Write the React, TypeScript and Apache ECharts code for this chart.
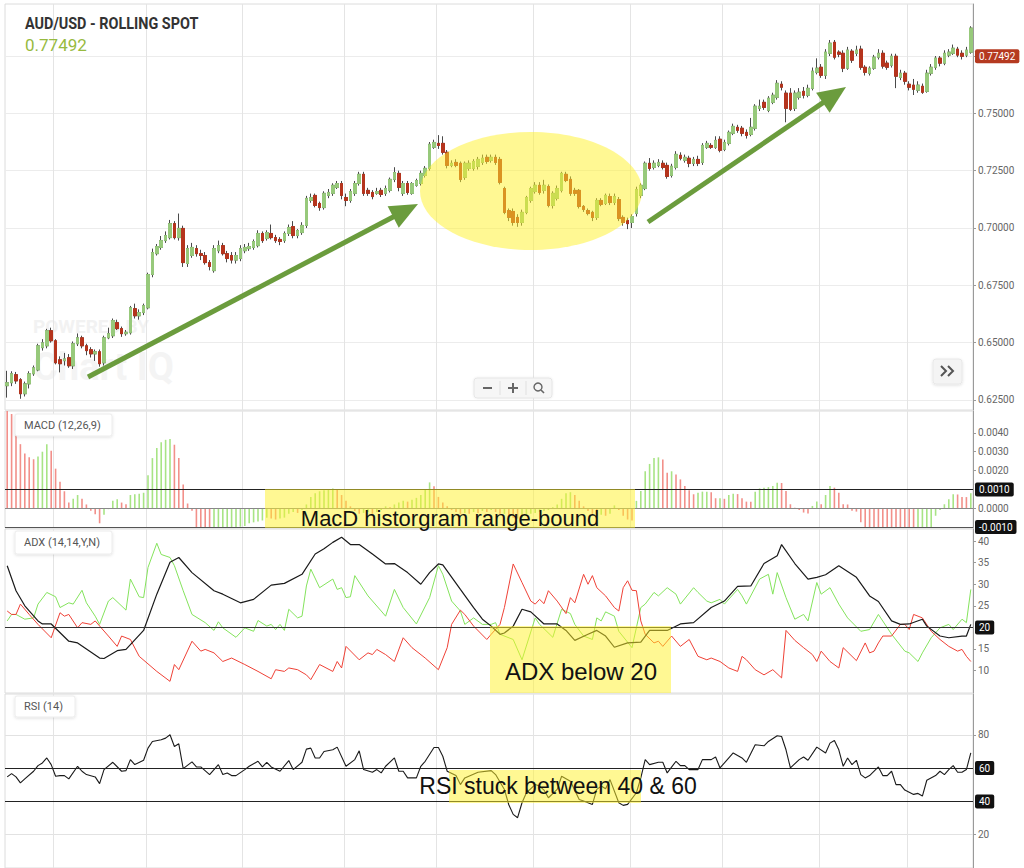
import React, { useEffect, useRef } from "react";
import * as echarts from "echarts";

// Prices are quoted in pips (1 pip = 0.0001)
const PIP = 0.0001;

const opens = [
  6312, 6325, 6360, 6338, 6277, 6320, 6364, 6381, 6478, 6486,
  6552, 6508, 6425, 6421, 6434, 6399, 6495, 6521, 6486, 6469,
  6451, 6460, 6412, 6521, 6530, 6587, 6561, 6539, 6543, 6648,
  6617, 6631, 6652, 6797, 6888, 6915, 6945, 6958, 7019, 6958,
  6998, 6845, 6880, 6910, 6888, 6880, 6849, 6814, 6901, 6923,
  6888, 6880, 6860, 6867, 6901, 6910, 6915, 6923, 6976, 6954,
  6976, 6958, 6950, 6945, 6976, 7006, 6967, 6980, 7011, 7120,
  7142, 7107, 7089, 7142, 7151, 7177, 7194, 7133, 7120, 7151,
  7194, 7234, 7164, 7155, 7151, 7164, 7151, 7164, 7212, 7238,
  7151, 7194, 7151, 7186, 7194, 7229, 7260, 7352, 7369, 7369,
  7330, 7273, 7286, 7282, 7221, 7260, 7260, 7269, 7286, 7308,
  7295, 7308, 7299, 7172, 7076, 7072, 7046, 7024, 7068, 7120,
  7159, 7186, 7164, 7181, 7098, 7129, 7164, 7234, 7212, 7164,
  7164, 7094, 7076, 7068, 7046, 7120, 7107, 7137, 7111, 7124,
  7046, 7033, 7024, 7063, 7142, 7172, 7282, 7264, 7273, 7282,
  7273, 7229, 7264, 7317, 7295, 7304, 7282, 7299, 7286, 7352,
  7360, 7352, 7387, 7343, 7369, 7413, 7439, 7435, 7417, 7408,
  7435, 7522, 7548, 7513, 7548, 7570, 7627, 7588, 7588, 7522,
  7570, 7596, 7579, 7609, 7679, 7701, 7666, 7762, 7810, 7767,
  7762, 7697, 7771, 7762, 7780, 7701, 7675, 7697, 7745, 7762,
  7719, 7710, 7749, 7657, 7675, 7627, 7623, 7601, 7618, 7596,
  7675, 7701, 7741, 7719, 7754, 7762, 7780, 7762, 7754, 7767,
];

const closes = [
  6325, 6364, 6333, 6277, 6320, 6364, 6390, 6486, 6499, 6552,
  6508, 6412, 6408, 6429, 6399, 6495, 6521, 6486, 6465, 6451,
  6460, 6408, 6521, 6539, 6596, 6561, 6539, 6545, 6652, 6617,
  6631, 6661, 6797, 6893, 6919, 6945, 6967, 7019, 6958, 6998,
  6849, 6910, 6915, 6888, 6880, 6849, 6832, 6910, 6923, 6888,
  6867, 6860, 6880, 6910, 6915, 6919, 6941, 6976, 6945, 6980,
  6958, 6945, 6941, 6976, 7002, 6967, 6989, 7011, 7129, 7133,
  7098, 7089, 7151, 7155, 7186, 7194, 7142, 7120, 7159, 7194,
  7234, 7151, 7151, 7137, 7159, 7146, 7172, 7212, 7242, 7177,
  7194, 7155, 7194, 7207, 7238, 7260, 7365, 7373, 7360, 7330,
  7273, 7282, 7273, 7212, 7282, 7282, 7290, 7299, 7304, 7290,
  7308, 7286, 7199, 7068, 7046, 7024, 7024, 7068, 7133, 7172,
  7186, 7155, 7186, 7098, 7151, 7172, 7238, 7207, 7151, 7151,
  7094, 7081, 7063, 7046, 7120, 7103, 7142, 7111, 7137, 7041,
  7024, 7019, 7050, 7168, 7186, 7282, 7260, 7282, 7286, 7264,
  7225, 7269, 7321, 7304, 7308, 7282, 7299, 7282, 7360, 7369,
  7352, 7382, 7339, 7373, 7417, 7443, 7426, 7413, 7404, 7439,
  7531, 7531, 7526, 7566, 7579, 7631, 7614, 7522, 7518, 7588,
  7592, 7579, 7609, 7684, 7697, 7666, 7767, 7806, 7745, 7758,
  7697, 7776, 7732, 7776, 7701, 7679, 7697, 7745, 7762, 7706,
  7701, 7749, 7662, 7675, 7640, 7614, 7605, 7623, 7592, 7675,
  7701, 7741, 7719, 7762, 7767, 7784, 7754, 7749, 7776, 7872,
];

const lows = [
  6260, 6310, 6320, 6255, 6265, 6300, 6355, 6375, 6465, 6475,
  6500, 6405, 6370, 6400, 6390, 6385, 6485, 6475, 6445, 6435,
  6420, 6395, 6400, 6515, 6520, 6555, 6525, 6530, 6535, 6605,
  6600, 6620, 6645, 6785, 6880, 6905, 6935, 6950, 6950, 6945,
  6830, 6830, 6870, 6875, 6860, 6840, 6815, 6805, 6890, 6880,
  6850, 6845, 6845, 6855, 6890, 6900, 6905, 6915, 6935, 6945,
  6950, 6935, 6925, 6935, 6965, 6955, 6955, 6970, 7000, 7110,
  7090, 7075, 7080, 7130, 7140, 7170, 7125, 7095, 7110, 7140,
  7185, 7140, 7140, 7125, 7145, 7135, 7140, 7155, 7200, 7160,
  7140, 7145, 7145, 7180, 7185, 7220, 7250, 7345, 7345, 7320,
  7260, 7265, 7265, 7200, 7210, 7250, 7250, 7255, 7275, 7280,
  7285, 7275, 7190, 7060, 7030, 7010, 7005, 7010, 7060, 7110,
  7150, 7145, 7150, 7090, 7085, 7120, 7155, 7200, 7140, 7140,
  7085, 7070, 7055, 7030, 7035, 7095, 7100, 7100, 7100, 7030,
  7010, 6995, 7000, 7050, 7130, 7165, 7250, 7255, 7265, 7255,
  7215, 7220, 7255, 7295, 7285, 7265, 7270, 7270, 7275, 7345,
  7345, 7345, 7330, 7335, 7360, 7405, 7415, 7400, 7390, 7400,
  7425, 7510, 7515, 7505, 7540, 7560, 7600, 7461, 7510, 7510,
  7560, 7565, 7570, 7600, 7670, 7655, 7650, 7750, 7735, 7745,
  7680, 7690, 7720, 7750, 7690, 7665, 7665, 7690, 7735, 7695,
  7690, 7700, 7610, 7645, 7625, 7600, 7580, 7590, 7585, 7590,
  7665, 7690, 7705, 7710, 7745, 7755, 7745, 7735, 7745, 7760,
];

const highs = [
  6377, 6375, 6372, 6345, 6330, 6375, 6400, 6495, 6515, 6560,
  6565, 6515, 6440, 6455, 6450, 6505, 6540, 6530, 6495, 6480,
  6470, 6470, 6530, 6565, 6605, 6600, 6570, 6555, 6660, 6670,
  6645, 6670, 6805, 6910, 6930, 6965, 6985, 7035, 7030, 7063,
  7010, 6925, 6935, 6925, 6905, 6895, 6860, 6925, 6945, 6935,
  6900, 6895, 6895, 6925, 6930, 6935, 6950, 6990, 6985, 6990,
  7015, 6970, 6960, 6985, 7015, 7030, 6995, 7025, 7140, 7150,
  7150, 7115, 7160, 7170, 7195, 7205, 7205, 7150, 7170, 7205,
  7245, 7245, 7175, 7165, 7175, 7175, 7185, 7220, 7265, 7250,
  7205, 7205, 7200, 7215, 7250, 7270, 7375, 7385, 7405, 7400,
  7340, 7295, 7300, 7290, 7290, 7295, 7300, 7310, 7320, 7320,
  7320, 7320, 7310, 7180, 7085, 7085, 7060, 7080, 7140, 7180,
  7200, 7200, 7210, 7190, 7160, 7185, 7245, 7245, 7225, 7175,
  7170, 7100, 7085, 7075, 7130, 7130, 7150, 7150, 7150, 7135,
  7055, 7045, 7060, 7180, 7195, 7290, 7305, 7295, 7300, 7295,
  7285, 7280, 7335, 7330, 7320, 7315, 7310, 7315, 7370, 7380,
  7370, 7400, 7400, 7385, 7425, 7455, 7450, 7445, 7430, 7480,
  7540, 7560, 7560, 7575, 7590, 7645, 7640, 7600, 7610, 7600,
  7610, 7615, 7625, 7700, 7740, 7715, 7780, 7820, 7820, 7775,
  7775, 7790, 7780, 7795, 7795, 7710, 7705, 7755, 7780, 7775,
  7730, 7760, 7760, 7690, 7685, 7640, 7650, 7640, 7630, 7690,
  7715, 7750, 7750, 7775, 7780, 7800, 7790, 7775, 7790, 7880,
];

// MACD histogram, in units of 0.0001
const macdHist = [
  56, 50, 42, 34, 29, 27, 26, 27.5, 30, 34,
  30.5, 21, 14, 9, 3, 5, 7, 5, 2, -1.4,
  -3.2, -8, -3.5, -0.5, 3.9, 4.7, 3, 2.1, 7, 7.4,
  7.7, 8.2, 17.5, 26.6, 32, 35, 36.3, 36.7, 33.7, 26.6,
  12.6, 2.5, -1.4, -10, -11, -12, -12.5, -12, -11.5, -11,
  -10.5, -10.3, -10, -9.8, -9.5, -8, -7.5, -7, -6.5, -5,
  -5.5, -6, -5.5, -5, -3, -2, -2.5, -1, 2, 6,
  8, 9, 9.5, 10, 10.5, 10, 7, 4, 1, -1.5,
  -3, -2.5, -2, -3, -2, -1, 1, 0.5, 2, 3,
  4, 3.5, 4.5, 5.5, 7, 10, 13.7, 11.7, 6, 3,
  1, -1, -2, -3, -2.5, -3, -2, -2.5, -1.5, -2,
  -1, -2, -3, -3, -4, -5, -5.5, -5, -4, -3,
  -2.5, -2, -1.5, -1, 0.5, 2, 5, 8, 8.5, 7,
  4, 1, -1.5, -3, -4, -3.5, -4, -3, 1.5, -1,
  -4, -6, -6.5, 3.9, 9.1, 19.6, 23.5, 26.6, 27, 25.8,
  18.8, 19.6, 17.9, 15.3, 11.8, 9.5, 7.4, 8.2, 8.8, 8.8,
  8.5, 5.3, 5.3, 5, 7, 7.7, 7.5, 5.3, 3.5, 3.4,
  8.8, 10.5, 10.9, 11.2, 11.8, 13.5, 13.4, 9.1, 2.1, 0.3,
  -1, -2.3, -2.8, 1.2, 3.5, 2.1, 7, 11.8, 10.9, 8.2,
  2.1, 2, -1.4, -1.8, -7.5, -10.5, -11, -12, -12.5, -13,
  -13.5, -14, -14.5, -15, -15.5, -16, -16.5, -15, -13, -11.5,
  -10, -4, -1, 2.1, 4.7, 7.4, 7.3, 6, 5.9, 8,
];

// ADX(14,14): [day index, value] vertices
const adxLine = [
  [0, 34.3], [2, 28.5], [4, 25], [7, 21.5], [8, 20.8], [10, 20.8], [14, 16.8], [16, 16.4], [21, 12.9], [22, 12.8],
  [25, 14.6], [27, 14.9], [31, 19.3], [34, 27.7], [37, 35.1], [39, 36.2], [42, 32.7], [47, 28.5], [49, 27.7], [53, 25.7],
  [56, 26.5], [60, 29.8], [63, 30.2], [67, 32.3], [70, 37], [72, 38.2], [74, 39.7], [76, 40.9], [78, 39.2], [80, 39.2],
  [83, 37], [86, 34.7], [88, 34.8], [91, 32.7], [94, 30], [96, 32.7], [98, 34.7], [99, 34.5], [103, 28.8], [106, 24.6],
  [108, 21.9], [110, 20.3], [112, 18.4], [113, 18.7], [115, 20.3], [117, 24.2], [119, 23.6], [122, 20.8], [125, 20.8], [127, 19.3],
  [129, 17], [132, 18.4], [134, 19.3], [136, 18], [138, 15.4], [141, 16.4], [144, 16.6], [146, 19.3], [150, 19.3], [153, 20.8],
  [156, 21.1], [160, 24.6], [163, 26.1], [166, 29.5], [169, 29.6], [172, 34.8], [175, 36.6], [176, 39.2], [179, 34.8], [182, 31.2],
  [184, 31.6], [186, 32.2], [189, 34.3], [193, 31.6], [196, 27.3], [198, 26], [201, 21.5], [203, 20.7], [205, 20.8], [208, 21.9],
  [209, 20.3], [212, 18], [214, 17.6], [217, 18], [218, 18], [219, 20.7],
];

const plusDI = [
  [0, 21.5], [1, 23], [2, 23], [4, 21.9], [6, 22.2], [7, 25.4], [9, 28.1], [11, 27.1], [12, 24.6], [14, 25.7],
  [15, 25.4], [17, 28.6], [18, 25.7], [20, 22.6], [21, 20.7], [23, 26.1], [24, 26.9], [27, 24], [28, 31.2], [30, 27.1],
  [31, 26.9], [32, 33.9], [34, 39.5], [35, 36.9], [37, 36.2], [38, 34.3], [40, 28.5], [42, 23], [45, 21.1], [47, 19.3],
  [48, 21.3], [49, 19.9], [52, 17.7], [54, 19.9], [56, 19.1], [57, 21.6], [59, 20.3], [60, 20.7], [61, 19.5], [62, 20.7],
  [63, 19.3], [64, 24.2], [66, 22.2], [67, 22.6], [68, 29.6], [69, 33.5], [71, 29.2], [74, 31.2], [75, 28.8], [76, 29.2],
  [77, 26.9], [78, 27.1], [79, 32], [82, 27.3], [85, 23.8], [86, 22.6], [88, 28.8], [90, 24.6], [93, 20.8], [96, 26.9],
  [98, 34.3], [99, 32.3], [101, 26.1], [103, 23.8], [104, 20.7], [106, 22.2], [108, 20.7], [110, 20.7], [111, 21.1], [112, 18.4],
  [115, 17.2], [117, 12.5], [120, 22.2], [121, 20.7], [124, 17.7], [126, 24.2], [128, 23.2], [129, 20.7], [131, 18], [133, 17.2],
  [134, 22.2], [135, 21.5], [136, 23.6], [138, 22.6], [139, 19.1], [142, 15.3], [144, 24.6], [145, 25.4], [147, 28.1], [148, 27.3],
  [150, 29.2], [152, 27.7], [153, 25.4], [156, 29.2], [157, 28.1], [159, 26.1], [160, 25.7], [162, 26.5], [163, 25.4], [166, 28.8],
  [167, 27.3], [168, 25.4], [171, 31.2], [173, 32.3], [174, 27.7], [175, 32.7], [177, 26.9], [179, 21.9], [181, 23], [182, 21.5],
  [184, 30.4], [185, 27.7], [187, 29.2], [189, 25.4], [191, 22.2], [194, 19.1], [196, 19.5], [198, 23], [201, 18.4], [204, 14.5],
  [205, 14.1], [207, 12.1], [208, 14.1], [210, 17.6], [212, 19.9], [214, 20.7], [215, 19.5], [217, 21.9], [218, 21.1], [219, 28.8],
];

const minusDI = [
  [0, 23.8], [1, 23], [2, 23], [3, 25.4], [5, 23], [7, 20.7], [10, 17.6], [12, 23.4], [13, 22.6], [14, 23],
  [16, 19.9], [17, 21.1], [19, 20.7], [20, 21.5], [23, 18], [25, 15.6], [26, 18], [28, 17.2], [30, 13.3], [34, 9.8],
  [37, 7.5], [38, 11.4], [39, 10.2], [42, 16.8], [44, 14.5], [45, 14.9], [47, 14.1], [49, 12.1], [51, 12.9], [54, 11.4],
  [57, 9.8], [60, 8.1], [61, 10.2], [63, 9.8], [64, 10.6], [66, 10.2], [68, 9], [69, 7.9], [71, 11.4], [74, 9.8],
  [75, 12.1], [76, 10.6], [77, 15.6], [80, 12.5], [82, 14.1], [83, 13.7], [84, 14.9], [86, 13.7], [88, 12.1], [90, 17.6],
  [92, 15.3], [95, 12.9], [98, 10.2], [100, 15.3], [101, 20.7], [103, 24], [104, 23], [106, 20.3], [109, 17.2], [110, 18.4],
  [112, 20.7], [113, 24.6], [115, 34.7], [117, 30.4], [119, 26.1], [120, 25.4], [121, 26.5], [122, 25.5], [123, 28.5], [125, 26.1],
  [127, 23.2], [128, 26.9], [129, 25.7], [131, 32.3], [132, 30], [133, 32], [134, 29.2], [136, 27.3], [138, 24.6], [139, 23.8],
  [140, 29.2], [141, 30.8], [142, 28.6], [143, 28.5], [144, 21.5], [145, 18.4], [147, 16.4], [148, 16.8], [149, 15.6], [151, 18],
  [153, 15.6], [155, 17.2], [157, 13.3], [159, 12.5], [160, 12.9], [162, 12.1], [164, 10.6], [166, 9.8], [167, 13.3], [168, 12.5],
  [170, 10.2], [172, 9], [174, 10.2], [176, 8.3], [177, 19.3], [179, 17], [181, 15.3], [183, 13.7], [184, 12.1], [185, 14.5],
  [187, 12.1], [189, 10.6], [190, 15.3], [192, 13.3], [193, 12.3], [195, 16.4], [196, 14.1], [197, 14.5], [198, 16.4], [199, 18],
  [201, 18], [203, 20.7], [204, 20.7], [205, 19.5], [206, 23], [208, 22.2], [210, 19.1], [212, 17.2], [214, 15.6], [216, 14.5],
  [217, 14.9], [218, 13.3], [219, 12.1],
];

// RSI(14): [day index, value]
const rsiLine = [
  [0, 54.7], [1, 56.7], [2, 54.7], [3, 51.1], [4, 53.5], [6, 58.1], [7, 61.5], [8, 63.1], [9, 66.1], [10, 62.1],
  [11, 55.1], [12, 55.5], [13, 55.5], [14, 53.5], [16, 61.1], [17, 58.1], [18, 56.1], [20, 54.7], [21, 50.7], [22, 59.1],
  [24, 63.5], [26, 58.1], [27, 58.5], [28, 65.1], [29, 62.1], [31, 64.7], [32, 72], [33, 76], [35, 77], [36, 78],
  [37, 80], [38, 73], [39, 74.6], [40, 59.7], [42, 63.7], [43, 60.7], [44, 60.7], [46, 56.1], [48, 62.1], [49, 56.1],
  [50, 57.1], [51, 55.5], [52, 55.5], [54, 59.1], [55, 61.1], [57, 64.1], [58, 60.7], [59, 63.5], [60, 60.7], [62, 58.1],
  [64, 64.5], [65, 59.1], [67, 63.5], [68, 71.4], [69, 72], [70, 66.1], [71, 66.1], [72, 70], [74, 71], [75, 72.6],
  [77, 61.1], [79, 65.1], [80, 70.4], [81, 59.1], [83, 57.5], [84, 59.1], [85, 57.1], [86, 61.1], [88, 66.1], [89, 58.1],
  [90, 58.1], [91, 54.1], [93, 54.1], [94, 61.1], [95, 64.1], [97, 72.4], [98, 72.4], [99, 67.1], [100, 58.1], [102, 55.5],
  [103, 50.1], [104, 54.1], [107, 57.5], [110, 58.5], [111, 56.1], [113, 47.2], [114, 38], [115, 32.2], [116, 30.2], [117, 39.2],
  [118, 45.2], [120, 50.1], [121, 49.2], [122, 46.8], [123, 42.2], [125, 47.2], [126, 55.1], [128, 52.1], [130, 41.2], [131, 40.2],
  [133, 38.2], [134, 47.2], [135, 49.2], [136, 47.6], [137, 53.1], [139, 39.2], [140, 37.6], [141, 38.2], [143, 45.2], [144, 54.1],
  [145, 65.1], [146, 62.1], [148, 63.5], [149, 63.5], [150, 57.1], [152, 64.1], [153, 61.5], [154, 61.5], [155, 59.1], [157, 59.1],
  [158, 65.1], [160, 65.1], [161, 66.7], [162, 60.1], [165, 69.1], [167, 66.1], [168, 63.5], [170, 74], [172, 73.4], [173, 76],
  [175, 79.4], [176, 79], [177, 71], [178, 60.1], [180, 65.1], [181, 66.7], [182, 64.7], [184, 72.6], [186, 69.1], [187, 75],
  [188, 76.6], [189, 71], [190, 61.1], [191, 66.1], [192, 62.1], [193, 64.7], [194, 56.1], [195, 54.1], [196, 55.5], [198, 60.7],
  [199, 55.5], [200, 55.5], [201, 58.1], [202, 50.1], [203, 50.1], [204, 46.8], [206, 44.2], [207, 44.8], [208, 43.2], [209, 52.7],
  [211, 55.5], [212, 58.1], [213, 56.1], [214, 59.1], [215, 61.5], [216, 57.5], [217, 57.5], [218, 59.1], [219, 69.1],
];

const monthStarts = [11, 32, 54, 77, 98, 120, 142, 163, 185, 205];
const priceTicks = [0.625, 0.65, 0.675, 0.7, 0.725, 0.75, 0.775];
const macdTicks = [0, 0.002, 0.003, 0.004];
const adxTicks = [10, 15, 25, 30, 35, 40];
const rsiTicks = [20, 80];
const lastPrice = 0.77492;
const symbolTitle = "AUD/USD - ROLLING SPOT";
const lastPriceText = "0.77492";

const UP = "#97c97b";
const DOWN = "#b5341d";
const WICK = "#4a4a4a";
const MACD_UP = "#a8e485";
const MACD_DOWN = "#f2908a";
const ARROW = "#6b9c3d";
const HILITE = "rgba(255,242,40,0.5)";
const GRID_LINE = "#e4e4e4";

const days = opens.map((_, i) => String(i + 1));

function tag(text: string, bg: string) {
  return {
    show: true,
    position: "end",
    formatter: text,
    color: "#fff",
    backgroundColor: bg,
    padding: [2, 4, 2, 4],
    borderRadius: 2,
    fontSize: 10,
    fontFamily: "Roboto",
    distance: 2,
  };
}

function buildOption(): any {
  const grids = [
    { left: 5, right: 51, top: 4, height: 406 },
    { left: 5, right: 51, top: 411, height: 117 },
    { left: 5, right: 51, top: 529, height: 164 },
    { left: 5, right: 51, top: 694, height: 175 },
  ].map((g) => ({ ...g, show: true, borderColor: "#dcdcdc", borderWidth: 1 }));

  const xAxes = grids.map((_, gi) => ({
    type: "category",
    gridIndex: gi,
    data: days,
    boundaryGap: true,
    axisLine: { show: false },
    axisTick: { show: false },
    axisLabel: { show: false },
    splitLine: {
      show: true,
      interval: (idx: number) => monthStarts.indexOf(idx) >= 0,
      lineStyle: { color: GRID_LINE, width: 1 },
    },
  }));

  const axisCommon = {
    type: "value",
    position: "right",
    axisLine: { show: true, lineStyle: { color: "#9a9a9a" } },
    axisLabel: { color: "#666", fontSize: 10, fontFamily: "Roboto", margin: 5 },
  };

  const yAxes = [
    {
      ...axisCommon,
      gridIndex: 0,
      min: 0.6206,
      max: 0.7977,
      axisTick: { show: true, length: 3, customValues: priceTicks, lineStyle: { color: "#9a9a9a" } },
      axisLabel: { ...axisCommon.axisLabel, customValues: priceTicks, formatter: (v: number) => v.toFixed(5) },
      splitLine: { show: true, lineStyle: { color: "#ececec" } },
    },
    {
      ...axisCommon,
      gridIndex: 1,
      min: -0.00105,
      max: 0.00516,
      axisTick: { show: true, length: 3, customValues: macdTicks, lineStyle: { color: "#9a9a9a" } },
      axisLabel: { ...axisCommon.axisLabel, customValues: macdTicks, formatter: (v: number) => v.toFixed(4) },
      splitLine: { show: false },
    },
    {
      ...axisCommon,
      gridIndex: 2,
      min: 4.8,
      max: 42.8,
      axisTick: { show: true, length: 3, customValues: adxTicks, lineStyle: { color: "#9a9a9a" } },
      axisLabel: { ...axisCommon.axisLabel, customValues: adxTicks },
      splitLine: { show: false },
    },
    {
      ...axisCommon,
      gridIndex: 3,
      min: 0,
      max: 104.5,
      axisTick: { show: true, length: 3, customValues: rsiTicks, lineStyle: { color: "#9a9a9a" } },
      axisLabel: { ...axisCommon.axisLabel, customValues: rsiTicks },
      splitLine: { show: true, lineStyle: { color: "#e2e2e2" } },
    },
  ];

  const fullCandles = opens.map((o, i) => [o * PIP, closes[i] * PIP, lows[i] * PIP, highs[i] * PIP]);
  const bodyCandles = opens.map((o, i) => [
    o * PIP,
    closes[i] * PIP,
    Math.min(o, closes[i]) * PIP,
    Math.max(o, closes[i]) * PIP,
  ]);

  const macdData = macdHist.map((v, i) => ({
    value: v * PIP,
    itemStyle: { color: i === 0 || v < macdHist[i - 1] ? MACD_DOWN : MACD_UP },
  }));

  const hidden = { color: "rgba(0,0,0,0)", width: 0 };

  const series: any[] = [
    {
      name: "wicks",
      type: "candlestick",
      xAxisIndex: 0,
      yAxisIndex: 0,
      barWidth: 3,
      data: fullCandles,
      itemStyle: { color: WICK, color0: WICK, borderColor: WICK, borderColor0: WICK, borderWidth: 1 },
      markLine: {
        silent: true,
        precision: 6,
        symbol: ["none", "none"],
        data: [{ yAxis: lastPrice, lineStyle: hidden, label: tag(lastPriceText, "#b53a20") }],
      },
    },
    {
      name: "bodies",
      type: "candlestick",
      xAxisIndex: 0,
      yAxisIndex: 0,
      barWidth: 3,
      data: bodyCandles,
      itemStyle: { color: UP, color0: DOWN, borderColor: UP, borderColor0: DOWN, borderWidth: 1 },
    },
    {
      name: "MACD",
      type: "bar",
      xAxisIndex: 1,
      yAxisIndex: 1,
      barWidth: 1.6,
      data: macdData,
      markLine: {
        silent: true,
        precision: 6,
        symbol: ["none", "none"],
        data: [
          { yAxis: 0.001, lineStyle: { color: "#222", width: 1, type: "solid" }, label: tag("0.0010", "#111") },
          { yAxis: 0, lineStyle: { color: "#888", width: 1, type: "solid" }, label: { show: false } },
          { yAxis: -0.001, lineStyle: { color: "#555", width: 1, type: "solid" }, label: tag("-0.0010", "#111") },
        ],
      },
    },
    {
      name: "+DI",
      type: "line",
      xAxisIndex: 2,
      yAxisIndex: 2,
      data: plusDI,
      showSymbol: false,
      lineStyle: { color: "#84e35c", width: 1 },
    },
    {
      name: "-DI",
      type: "line",
      xAxisIndex: 2,
      yAxisIndex: 2,
      data: minusDI,
      showSymbol: false,
      lineStyle: { color: "#ef4136", width: 1 },
    },
    {
      name: "ADX",
      type: "line",
      xAxisIndex: 2,
      yAxisIndex: 2,
      data: adxLine,
      showSymbol: false,
      lineStyle: { color: "#1a1a1a", width: 1.2 },
      markLine: {
        silent: true,
        precision: 4,
        symbol: ["none", "none"],
        data: [{ yAxis: 20, lineStyle: { color: "#333", width: 1.2, type: "solid" }, label: tag("20", "#111") }],
      },
    },
    {
      name: "RSI",
      type: "line",
      xAxisIndex: 3,
      yAxisIndex: 3,
      data: rsiLine,
      showSymbol: false,
      lineStyle: { color: "#1a1a1a", width: 1.1 },
      markLine: {
        silent: true,
        precision: 4,
        symbol: ["none", "none"],
        data: [
          { yAxis: 60, lineStyle: { color: "#222", width: 1.2, type: "solid" }, label: tag("60", "#111") },
          { yAxis: 40, lineStyle: { color: "#222", width: 1.2, type: "solid" }, label: tag("40", "#111") },
        ],
      },
    },
  ];

  const panelLabel = (x: number, y: number, w: number, h: number, text: string) => [
    {
      type: "rect",
      z: 50,
      shape: { x, y, width: w, height: h, r: 2 },
      style: { fill: "#fff", stroke: "#ececec", shadowBlur: 3, shadowColor: "rgba(0,0,0,0.12)", shadowOffsetY: 1 },
    },
    {
      type: "text",
      z: 51,
      x: x + 9,
      y: y + h / 2,
      style: { text, fill: "#555", fontSize: 11, fontFamily: "Roboto", align: "left", verticalAlign: "middle" },
    },
  ];

  const arrow = (x1: number, y1: number, tx: number, ty: number) => {
    const dx = tx - x1;
    const dy = ty - y1;
    const len = Math.sqrt(dx * dx + dy * dy);
    const ux = dx / len;
    const uy = dy / len;
    const headL = 28;
    const headW = 12;
    const bx = tx - ux * headL;
    const by = ty - uy * headL;
    return [
      { type: "line", z: 110, shape: { x1, y1, x2: bx + ux * 2, y2: by + uy * 2 }, style: { stroke: ARROW, lineWidth: 5 } },
      {
        type: "polygon",
        z: 110,
        shape: { points: [[tx, ty], [bx - uy * headW, by + ux * headW], [bx + uy * headW, by - ux * headW]] },
        style: { fill: ARROW },
      },
    ];
  };

  const annText = (x: number, y: number, text: string, size: number) => ({
    type: "text",
    z: 120,
    x,
    y,
    style: {
      text,
      fill: "#111",
      fontSize: size,
      fontFamily: "Liberation Sans, Arial, sans-serif",
      align: "center",
      verticalAlign: "middle",
    },
  });

  const graphic: any[] = [
    // watermark
    {
      type: "text",
      z: 0,
      x: 33,
      y: 326,
      style: { text: "POWERED BY", fill: "#f2f2f2", fontSize: 19, fontWeight: "bold", fontFamily: "Roboto", verticalAlign: "middle" },
    },
    {
      type: "text",
      z: 0,
      x: 33,
      y: 367,
      style: { text: "Chart IQ", fill: "#f4f4f4", fontSize: 38, fontWeight: "bold", fontFamily: "Roboto", verticalAlign: "middle" },
    },
    // title
    {
      type: "text",
      z: 60,
      x: 25,
      y: 24,
      scaleX: 0.9,
      style: { text: symbolTitle, fill: "#333", fontSize: 16, fontWeight: "bold", fontFamily: "Roboto", verticalAlign: "middle" },
    },
    {
      type: "text",
      z: 60,
      x: 25,
      y: 45,
      style: { text: lastPriceText, fill: "#97ba3f", fontSize: 17, fontFamily: "Roboto", verticalAlign: "middle" },
    },
    // zoom controls
    {
      type: "rect",
      z: 60,
      shape: { x: 474, y: 378, width: 78, height: 20, r: 3 },
      style: { fill: "#f6f6f6", stroke: "#e6e6e6", shadowBlur: 2, shadowColor: "rgba(0,0,0,0.08)" },
    },
    { type: "line", z: 61, shape: { x1: 500, y1: 381, x2: 500, y2: 395 }, style: { stroke: "#e0e0e0", lineWidth: 1 } },
    { type: "line", z: 61, shape: { x1: 526, y1: 381, x2: 526, y2: 395 }, style: { stroke: "#e0e0e0", lineWidth: 1 } },
    { type: "line", z: 61, shape: { x1: 483, y1: 388, x2: 492, y2: 388 }, style: { stroke: "#666", lineWidth: 2 } },
    { type: "line", z: 61, shape: { x1: 508, y1: 388, x2: 518, y2: 388 }, style: { stroke: "#666", lineWidth: 2 } },
    { type: "line", z: 61, shape: { x1: 513, y1: 383, x2: 513, y2: 393 }, style: { stroke: "#666", lineWidth: 2 } },
    { type: "circle", z: 61, shape: { cx: 538, cy: 387, r: 4 }, style: { fill: "none", stroke: "#666", lineWidth: 1.4 } },
    { type: "line", z: 61, shape: { x1: 541, y1: 390, x2: 544, y2: 393 }, style: { stroke: "#666", lineWidth: 1.6 } },
    // ">>" button
    {
      type: "rect",
      z: 60,
      shape: { x: 933, y: 359, width: 29, height: 25, r: 3 },
      style: { fill: "#f4f4f4", stroke: "#e8e8e8", shadowBlur: 3, shadowColor: "rgba(0,0,0,0.12)", shadowOffsetY: 1 },
    },
    { type: "polyline", z: 61, shape: { points: [[941, 366], [946, 371], [941, 376]] }, style: { stroke: "#555", lineWidth: 2, fill: "none" } },
    { type: "polyline", z: 61, shape: { points: [[948, 366], [953, 371], [948, 376]] }, style: { stroke: "#555", lineWidth: 2, fill: "none" } },
    // panel labels
    ...panelLabel(15, 414, 97, 22, "MACD (12,26,9)"),
    ...panelLabel(15, 531, 97, 23, "ADX (14,14,Y,N)"),
    ...panelLabel(15, 696, 60, 21, "RSI (14)"),
    // consolidation highlight
    { type: "ellipse", z: 100, shape: { cx: 531, cy: 191, rx: 111, ry: 59 }, style: { fill: HILITE } },
    // trend arrows
    ...arrow(88, 377, 418, 204),
    ...arrow(648, 222, 846, 87),
    // indicator notes
    { type: "rect", z: 100, shape: { x: 265, y: 489, width: 370, height: 39 }, style: { fill: HILITE } },
    annText(450, 518, "MacD historgram range-bound", 22),
    { type: "rect", z: 100, shape: { x: 490, y: 626, width: 181, height: 67 }, style: { fill: HILITE } },
    annText(581, 671, "ADX below 20", 24),
    { type: "rect", z: 100, shape: { x: 449, y: 770, width: 192, height: 33 }, style: { fill: HILITE } },
    annText(558, 786, "RSI stuck between 40 & 60", 23),
  ];

  return {
    animation: false,
    backgroundColor: "#ffffff",
    textStyle: { fontFamily: "Roboto" },
    grid: grids,
    xAxis: xAxes,
    yAxis: yAxes,
    series,
    graphic,
  };
}

export default function App() {
  const ref = useRef<HTMLDivElement>(null);
  useEffect(() => {
    if (!ref.current) return;
    const chart = echarts.init(ref.current, undefined, { renderer: "svg" });
    chart.setOption(buildOption());
    return () => chart.dispose();
  }, []);
  return (
    <div
      ref={ref}
      style={{ position: "fixed", left: 0, top: 0, width: 1024, height: 868, background: "#fff" }}
    />
  );
}
